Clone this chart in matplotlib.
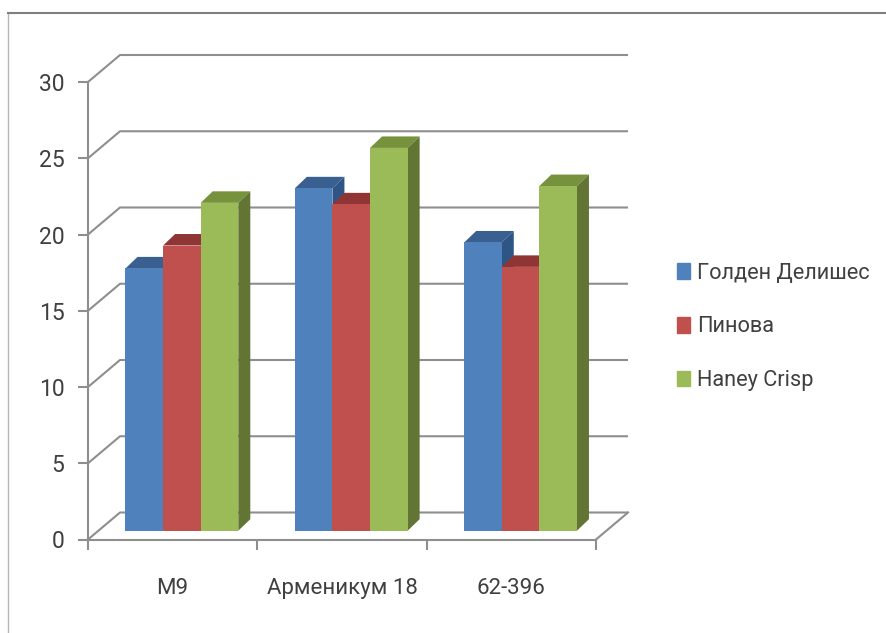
import matplotlib
matplotlib.use('Agg')
import matplotlib.pyplot as plt
from matplotlib.lines import Line2D
from matplotlib.patches import Patch

plt.rcParams['font.family'] = ['Roboto', 'DejaVu Sans']

categories = ['М9', 'Арменикум 18', '62-396']
series_names = ['Голден Делишес', 'Пинова', 'Haney Crisp']
golden = [17.2, 22.45, 18.9]
pinova = [18.7, 21.4, 17.3]
haney = [21.5, 25.1, 22.6]
y_ticks = [0, 5, 10, 15, 20, 25, 30]

front_colors = ['#4F81BD', '#C0504D', '#9BBB59']
top_colors = ['#3A6091', '#8F3534', '#76923C']
side_colors = ['#2F5585', '#7F2F2D', '#637534']
grid_color = '#8E8E8E'
text_color = '#404040'

W, H = 887, 633
fig = plt.figure(figsize=(W / 100, H / 100), dpi=100)
ax = fig.add_axes([88 / W, 1 - 539.5 / H, 508 / W, 457.5 / H])
ax.set_xlim(0, 3)
ax.set_ylim(0, 30)
ax.patch.set_alpha(0)

# depth of the fake 3d walls and bars, in data units
px_x = 3 / 508
px_y = 30 / 457.5
wall_dx = 32 * px_x
wall_dy = 27 * px_y
bar_dx = 12 * px_x
bar_dy = 11.5 * px_y
bar_base = 8.8 * px_y
bar_w = 37.6 * px_x
bar_start = 37.5 * px_x

for v in y_ticks:
    ax.plot([0, wall_dx, 3 + wall_dx], [v, v + wall_dy, v + wall_dy],
            color=grid_color, lw=1.5, clip_on=False, zorder=1, solid_capstyle='butt')
ax.plot([3, 3 + wall_dx], [0, wall_dy], color=grid_color, lw=1.5, clip_on=False, zorder=1)

for s, vals in enumerate([golden, pinova, haney]):
    for c, v in enumerate(vals):
        x0 = c + bar_start + s * bar_w
        x1 = x0 + bar_w
        top = bar_base + v
        z = 3 + s
        ax.bar(x0, v, bar_w, bottom=bar_base, align='edge', color=front_colors[s], zorder=z + 0.2)
        ax.fill([x0, x1, x1 + bar_dx, x0 + bar_dx], [top, top, top + bar_dy, top + bar_dy],
                color=top_colors[s], lw=0, clip_on=False, zorder=z)
        ax.fill([x1, x1 + bar_dx, x1 + bar_dx, x1],
                [bar_base, bar_base + bar_dy, top + bar_dy, top],
                color=side_colors[s], lw=0, clip_on=False, zorder=z + 0.1)

for side in ['top', 'right']:
    ax.spines[side].set_visible(False)
for side in ['left', 'bottom']:
    ax.spines[side].set_color(grid_color)
    ax.spines[side].set_linewidth(1.5)
    ax.spines[side].set_zorder(2)

ax.set_yticks(y_ticks)
ax.set_xticks([0, 1, 2, 3])
ax.set_xticklabels([])
ax.set_xticks([0.5, 1.5, 2.5], labels=categories, minor=True)
ax.tick_params(axis='both', which='major', color=grid_color, width=1.5, length=7)
ax.tick_params(axis='y', labelsize=16.5, labelcolor=text_color, pad=10)
ax.tick_params(axis='x', which='minor', length=0, labelsize=16, labelcolor=text_color, pad=28)

handles = [Patch(color=c) for c in front_colors]
fig.legend(handles, series_names, loc='center left', bbox_to_anchor=(670 / W, 1 - 327 / H),
           frameon=False, fontsize=15.7, labelcolor=text_color, handlelength=0.64, handleheight=0.73,
           handletextpad=0.32, labelspacing=1.5, borderpad=0, borderaxespad=0.3)

# outer chart frame, cut by the image edge
fig.add_artist(Line2D([8 / W, 8 / W], [0, 1 - 13 / H], color='#B5B5B5', lw=1))
fig.add_artist(Line2D([8 / W, 1], [1 - 13 / H, 1 - 13 / H], color='#808080', lw=1.5))

fig.savefig('out.png', dpi=100)
